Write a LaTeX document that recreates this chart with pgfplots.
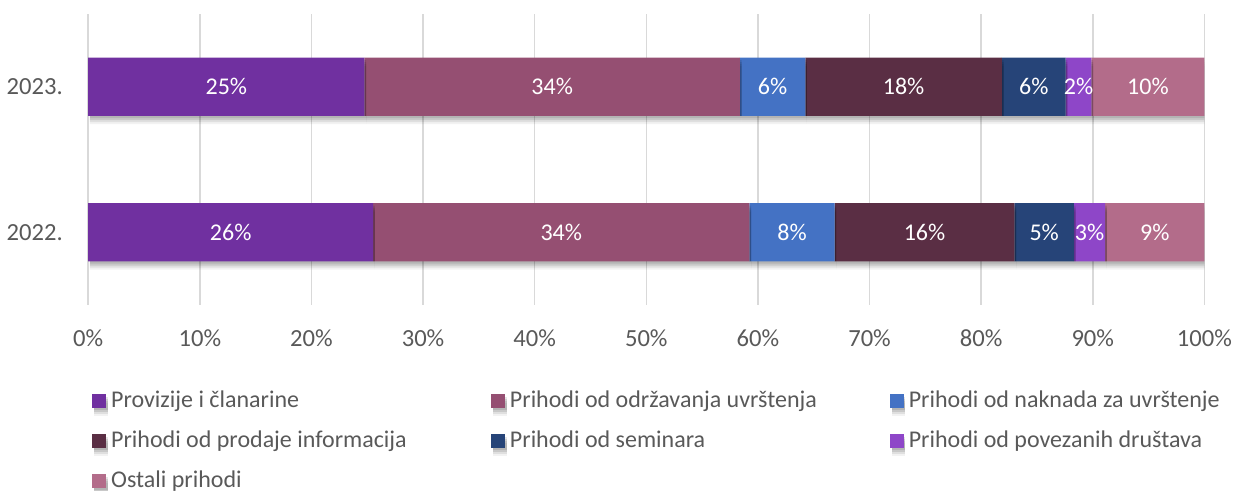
\documentclass[border=0pt]{standalone}
\usepackage{fontspec}
\setmainfont{Carlito}
\usepackage{pgfplots}
\pgfplotsset{compat=1.18}
\usepackage{pgfplotstable}
\definecolor{c1}{HTML}{7030A0}
\definecolor{c2}{HTML}{954F72}
\definecolor{c3}{HTML}{4472C4}
\definecolor{c4}{HTML}{5A2E44}
\definecolor{c5}{HTML}{264478}
\definecolor{c6}{HTML}{8E46C8}
\definecolor{c7}{HTML}{B36C8A}
\definecolor{txt}{HTML}{595959}
\definecolor{gridc}{HTML}{D9D9D9}

\pgfplotstableread{
y a b c d e f g
0 25.53 33.71 7.63 16.11 5.33 2.80 8.89
1 24.75 33.64 5.86 17.61 5.71 2.31 10.12
}\shares

\newcommand{\fs}{\fontsize{12}{14.4}\selectfont}
\newcommand{\fst}{\fontsize{12.3}{14.8}\selectfont}

\begin{document}
\fs
\begin{tikzpicture}
\useasboundingbox (0,0) rectangle (616.5pt,-245.5pt);
\begin{axis}[
  at={(44.1pt,-152.5pt)}, anchor=south west,
  scale only axis, width=558.1pt, height=145.5pt,
  xbar stacked, bar width=0.4,
  xmin=0, xmax=100, ymin=-0.5, ymax=1.5,
  ytick={0,1}, yticklabels={2022.,2023.},
  xtick={0,10,...,100},
  xticklabel={\pgfmathprintnumber{\tick}\%},
  /pgf/number format/assume math mode=true,
  xmajorgrids, ymajorgrids=false,
  grid style={draw=gridc, line width=0.75pt},
  axis line style={draw=none},
  major tick length=0pt,
  tick label style={font=\fst, text=txt, inner sep=0pt},
  xticklabel style={anchor=north, yshift=-12pt},
  yticklabel style={anchor=east, xshift=-12.5pt},
  point meta=explicit symbolic,
  nodes near coords={\pgfmathprintnumber[fixed,precision=0]{\pgfplotspointmeta}\%},
  every node near coord/.append style={font=\fs, text=white, anchor=center},
  shd/.style={
    preaction={fill=black, opacity=0.10, transform canvas={xshift=0.8pt, yshift=-1.2pt}},
    preaction={fill=black, opacity=0.10, transform canvas={xshift=0.8pt, yshift=-2.2pt}},
    preaction={fill=black, opacity=0.08, transform canvas={xshift=0.8pt, yshift=-3.2pt}},
    preaction={fill=black, opacity=0.05, transform canvas={xshift=0.8pt, yshift=-4.2pt}}},
  legend columns=3,
  legend cell align=left,
  legend style={draw=none, fill=none, font=\fs, text=txt,
    at={(-0.002,-0.282)}, anchor=north west,
    row sep=9.5pt,
    nodes={inner sep=0pt, text height=8pt, text depth=2.5pt},
    /tikz/every odd column/.append style={column sep=2.5pt},
    /tikz/every even column/.append style={column sep=0pt}},
  legend image code/.code={\fill[/tikz/preaction/.code={}, #1] (0pt,-3.0pt) rectangle (6.9pt,3.9pt);},
]
\addplot[fill=c1, draw=none, shd] table[x=a, y=y, meta=a] {\shares};
\addplot[fill=c2, draw=none, shd] table[x=b, y=y, meta=b] {\shares};
\addplot[fill=c3, draw=none, shd] table[x=c, y=y, meta=c] {\shares};
\addplot[fill=c4, draw=none, shd] table[x=d, y=y, meta=d] {\shares};
\addplot[fill=c5, draw=none, shd] table[x=e, y=y, meta=e] {\shares};
\addplot[fill=c6, draw=none, shd] table[x=f, y=y, meta=f] {\shares};
\addplot[fill=c7, draw=none, shd] table[x=g, y=y, meta=g] {\shares};
\legend{\makebox[190pt][l]{Provizije i članarine},
        \makebox[190pt][l]{Prihodi od održavanja uvrštenja},
        \makebox[160pt][l]{Prihodi od naknada za uvrštenje},
        \makebox[190pt][l]{Prihodi od prodaje informacija},
        \makebox[190pt][l]{Prihodi od seminara},
        \makebox[160pt][l]{Prihodi od povezanih društava},
        \makebox[190pt][l]{Ostali prihodi}}
\end{axis}
\end{tikzpicture}
\end{document}
